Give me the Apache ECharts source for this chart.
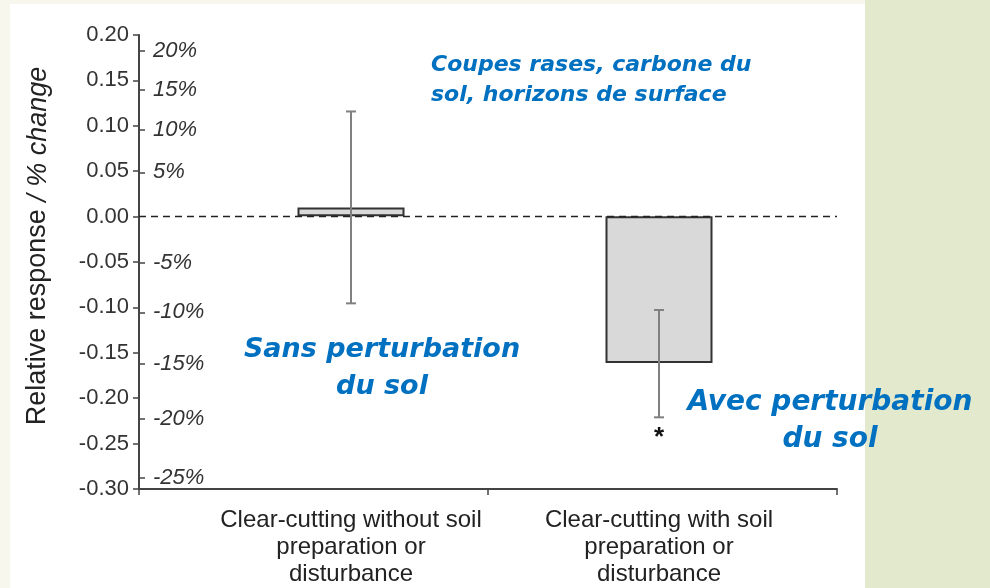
<!DOCTYPE html>
<html>
<head>
<meta charset="utf-8">
<script src="https://cdn.jsdelivr.net/npm/echarts@6/dist/echarts.min.js"></script>
<style>
  html, body { margin: 0; padding: 0; background: #f7f7ee; }
  .page { position: relative; width: 990px; height: 588px; overflow: hidden; }
  .panel { position: absolute; left: 10px; top: 4px; width: 855px; height: 584px; background: #fff; }
  .strip { position: absolute; left: 865px; top: 0; width: 125px; height: 588px; background: #e2e9cc; }
  #chart { position: absolute; left: 0; top: 0; width: 990px; height: 588px; }
</style>
</head>
<body>
<div class="page">
  <div class="panel"></div>
  <div class="strip"></div>
  <div id="chart"></div>
</div>
<script>
// categories and values
var categories = [
  'Clear-cutting without soil\npreparation or\ndisturbance',
  'Clear-cutting with soil\npreparation or\ndisturbance'
]
var meanResponse = [0.0096, -0.162]
var ciLow = [-0.0962, -0.222]
var ciHigh = [0.1156, -0.1035]
var sigMarks = ['', '*']
// percent change ticks drawn on the inner side of the axis (log response ratio)
var percentTicks = [20, 15, 10, 5, -5, -10, -15, -20, -25]

var yMin = -0.3
var yMax = 0.2
var axisColor = '#444'
var blue = '#0070c0'
var blueFont = '"DejaVu Sans", "Open Sans", sans-serif'

var chart = echarts.init(document.getElementById('chart'), null, { renderer: 'canvas' })

function renderErr(params, api) {
  var i = api.value(0)
  var top = api.coord([i, api.value(2)])
  var bot = api.coord([i, api.value(1)])
  var cap = 5
  var style = { stroke: '#808080', lineWidth: 2 }
  var children = [
    { type: 'line', shape: { x1: top[0], y1: top[1], x2: bot[0], y2: bot[1] }, style: style },
    { type: 'line', shape: { x1: top[0] - cap, y1: top[1], x2: top[0] + cap, y2: top[1] }, style: style },
    { type: 'line', shape: { x1: bot[0] - cap, y1: bot[1], x2: bot[0] + cap, y2: bot[1] }, style: style }
  ]
  var mark = sigMarks[params.dataIndex]
  if (mark) {
    children.push({
      type: 'text',
      style: {
        text: mark, x: bot[0], y: bot[1] + 7, align: 'center', verticalAlign: 'top',
        font: 'bold 26px "Liberation Sans", Arial', fill: '#111'
      }
    })
  }
  return { type: 'group', children: children }
}

var option = {
  animation: false,
  grid: [
    // axes frame
    { left: 139, right: 153, top: 35, bottom: 99 },
    // bars
    { left: 197, right: 177, top: 35, bottom: 99 }
  ],
  xAxis: [
    {
      type: 'category',
      gridIndex: 0,
      data: categories.map(function () { return '' }),
      axisLine: { onZero: false, lineStyle: { color: axisColor, width: 2 } },
      axisTick: { show: true, length: 6, lineStyle: { color: axisColor, width: 1.5 } },
      axisLabel: { show: false }
    },
    {
      type: 'category',
      gridIndex: 1,
      data: categories,
      axisLine: { show: false, onZero: false },
      axisTick: { show: false },
      axisLabel: {
        interval: 0,
        hideOverlap: false,
        margin: 19,
        color: '#222',
        fontSize: 24,
        lineHeight: 27,
        fontFamily: '"Liberation Sans", Arial, sans-serif'
      }
    }
  ],
  yAxis: [
    {
      type: 'value',
      gridIndex: 0,
      min: yMin,
      max: yMax,
      interval: 0.05,
      axisLine: { show: true, lineStyle: { color: axisColor, width: 2 } },
      axisTick: { show: true, length: 6, lineStyle: { color: axisColor, width: 1.5 } },
      splitLine: { show: false },
      axisLabel: {
        margin: 10,
        color: '#333',
        fontSize: 22,
        fontFamily: '"Liberation Sans", Arial, sans-serif',
        formatter: function (v) { return v.toFixed(2) }
      }
    },
    {
      type: 'value',
      gridIndex: 0,
      position: 'left',
      min: yMin,
      max: yMax,
      axisLine: { show: false },
      splitLine: { show: false },
      axisTick: {
        show: true, inside: true, length: 6,
        lineStyle: { color: axisColor, width: 1.5 },
        customValues: percentTicks.map(function (p) { return Math.log(1 + p / 100) })
      },
      axisLabel: {
        inside: true,
        margin: 14,
        color: '#333',
        fontSize: 22,
        fontStyle: 'italic',
        fontFamily: '"Liberation Sans", Arial, sans-serif',
        customValues: percentTicks.map(function (p) { return Math.log(1 + p / 100) }),
        formatter: function (v) { return Math.round((Math.exp(v) - 1) * 100) + '%' }
      }
    },
    {
      type: 'value',
      gridIndex: 1,
      min: yMin,
      max: yMax,
      show: false
    }
  ],
  graphic: [
    {
      type: 'text',
      x: 38,
      y: 246,
      rotation: Math.PI / 2,
      style: {
        text: '{a|Relative response }{b|/ % change}',
        align: 'center',
        verticalAlign: 'middle',
        fill: '#222',
        rich: {
          a: { fontSize: 27, fontFamily: '"Liberation Sans", Arial', fill: '#222' },
          b: { fontSize: 27, fontStyle: 'italic', fontFamily: '"Liberation Sans", Arial', fill: '#222' }
        }
      }
    },
    {
      type: 'text',
      x: 431,
      y: 50,
      style: {
        text: 'Coupes rases, carbone du\nsol, horizons de surface',
        align: 'left',
        verticalAlign: 'top',
        lineHeight: 30,
        font: 'italic bold 22px ' + blueFont,
        fill: blue
      }
    },
    {
      type: 'text',
      x: 382,
      y: 331,
      style: {
        text: 'Sans perturbation\ndu sol',
        align: 'center',
        verticalAlign: 'top',
        lineHeight: 37,
        font: 'italic bold 27px ' + blueFont,
        fill: blue
      }
    },
    {
      type: 'text',
      x: 830,
      y: 384,
      style: {
        text: 'Avec perturbation\ndu sol',
        align: 'center',
        verticalAlign: 'top',
        lineHeight: 37,
        font: 'italic bold 28px ' + blueFont,
        fill: blue
      }
    }
  ],
  series: [
    {
      name: 'zero',
      type: 'line',
      xAxisIndex: 0,
      yAxisIndex: 0,
      data: [],
      silent: true,
      markLine: {
        silent: true,
        symbol: 'none',
        label: { show: false },
        lineStyle: { color: '#222', type: [7, 5], width: 1.3 },
        data: [{ yAxis: 0 }]
      }
    },
    {
      name: 'Relative response',
      type: 'bar',
      xAxisIndex: 1,
      yAxisIndex: 2,
      barWidth: 107,
      data: meanResponse,
      itemStyle: { color: '#d9d9d9', borderColor: '#333', borderWidth: 2 }
    },
    {
      name: 'CI',
      type: 'custom',
      xAxisIndex: 1,
      yAxisIndex: 2,
      z: 5,
      renderItem: renderErr,
      encode: { x: 0, y: [1, 2] },
      data: categories.map(function (c, i) { return [i, ciLow[i], ciHigh[i]] })
    }
  ]
}

chart.setOption(option)
</script>
</body>
</html>
